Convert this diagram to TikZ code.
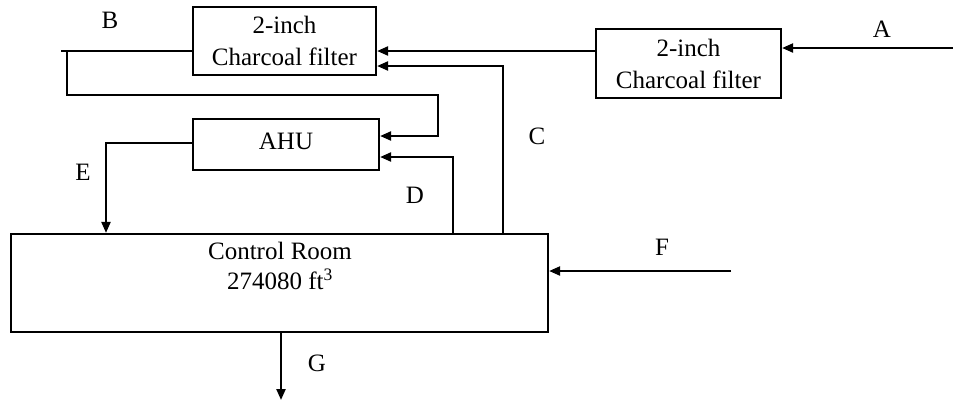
\documentclass[tikz,border=0pt]{standalone}
\usepackage{fontspec}
\setmainfont{Liberation Serif}
\usetikzlibrary{arrows.meta}
\begin{document}
\begin{tikzpicture}[x=1pt,y=-1pt,
  box/.style={draw,line width=2.2pt,inner sep=0pt,align=center,font=\fontsize{25}{32}\selectfont},
  flow/.style={line width=2.2pt,-{Triangle[length=11pt,width=9pt]}},
  plainline/.style={line width=2.2pt},
  lbl/.style={inner sep=0pt,font=\fontsize{25}{30}\selectfont}]
\useasboundingbox (0,0) rectangle (953,408);
% boxes
\node[box,minimum width=183pt,minimum height=68pt] (f1) at (284.5,41) {2-inch\\Charcoal filter};
\node[box,minimum width=185pt,minimum height=69pt] (f2) at (688.5,63.5) {2-inch\\Charcoal filter};
\node[box,minimum width=186pt,minimum height=51pt] (ahu) at (286,144.5) {};
\node[lbl] (ahutxt) at (286,141) {AHU};
\node[box,minimum width=537pt,minimum height=98pt] (room) at (279.5,283) {};
\node[lbl,align=center,font=\fontsize{25}{30}\selectfont] (roomtxt) at (280,266) {Control Room\\274080 ft\textsuperscript{3}};
% coordinates
\coordinate (yB) at (0,51);
\coordinate (yC) at (0,66);
\coordinate (Ain) at (953,48);
\coordinate (Bend) at (61,51);
\coordinate (Bdrop) at (67,51);
\coordinate (Bx) at (438,95);
\coordinate (Cx) at (503,66);
\coordinate (Dx) at (453,157);
\coordinate (Ex) at (106,143);
\coordinate (Fin) at (731,271);
\coordinate (Gout) at (281,400);
% connectors
\draw[flow] (Ain) -- (Ain -| f2.east);
\draw[flow] (f2.west |- yB) -- (f1.east |- yB);
\draw[plainline] (f1.west |- yB) -- (Bend);
\draw[flow] (Bdrop) |- (Bx) |- (ahu.east |- 0,136);
\draw[flow] (room.north -| Cx) -- (Cx) -- (f1.east |- yC);
\draw[flow] (room.north -| Dx) -- (Dx) -- (ahu.east |- Dx);
\draw[flow] (ahu.west |- Ex) -- (Ex) -- (room.north -| Ex);
\draw[flow] (Fin) -- (room.east |- Fin);
\draw[flow] (room.south -| Gout) -- (Gout);
% labels
\node[lbl] (lA) at (882,29) {A};
\node[lbl] (lB) at (110,20) {B};
\node[lbl] (lC) at (537,136) {C};
\node[lbl] (lD) at (415,195) {D};
\node[lbl] (lE) at (83,172) {E};
\node[lbl] (lF) at (662,247) {F};
\node[lbl] (lG) at (317,363) {G};
\end{tikzpicture}
\end{document}
